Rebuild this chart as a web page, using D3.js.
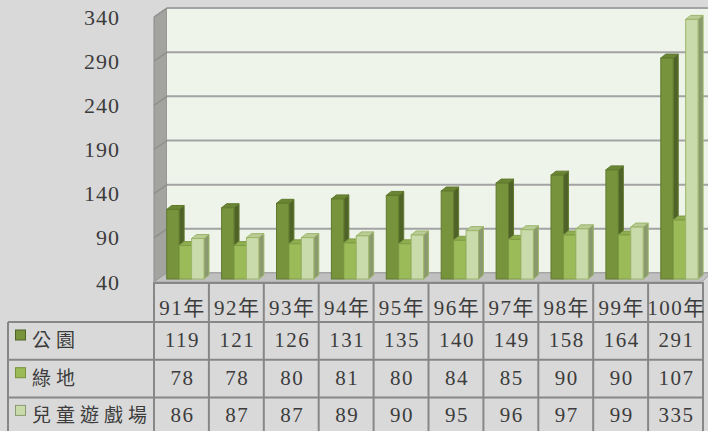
<!DOCTYPE html>
<html>
<head>
<meta charset="utf-8">
<script src="https://cdn.jsdelivr.net/npm/d3@7"></script>
<style>
  body { margin: 0; background: #d9d9d9; }
  text { font-family: "Liberation Serif", "Noto Sans CJK TC", serif; fill: #3c3c3c; }
</style>
</head>
<body>
<div id="chart"></div>
<script>
var categories = ["91年", "92年", "93年", "94年", "95年", "96年", "97年", "98年", "99年", "100年"];
var seriesNames = ["公園", "綠地", "兒童遊戲場"];
var parks = [119, 121, 126, 131, 135, 140, 149, 158, 164, 291];
var greens = [78, 78, 80, 81, 80, 84, 85, 90, 90, 107];
var playgrounds = [86, 87, 87, 89, 90, 95, 96, 97, 99, 335];
var yTicks = [40, 90, 140, 190, 240, 290, 340];

var width = 708, height = 431;

// colours per series: front, side, top, edge
var colors = [
    { front: "#77933c", side: "#4f6228", top: "#6a8534", edge: "#60792d" },
    { front: "#9bbb59", side: "#76923c", top: "#8fae4f", edge: "#7f9c45" },
    { front: "#c9dbaa", side: "#8a9a6e", top: "#b9cc95", edge: "#9cb56a" }
];
var seriesData = [parks, greens, playgrounds];

////////////////////////////////////////////////////////////////////////////////

var svg = d3.select("#chart").append("svg")
    .attr("width", width)
    .attr("height", height);

svg.append("rect")
    .attr("width", width).attr("height", height)
    .attr("fill", "#d9d9d9");

var x = d3.scaleBand().domain(categories).range([154, 703]);
var sub = d3.scaleBand().domain(seriesNames).range([12.7, 50]);
var yFront = d3.scaleLinear().domain([40, 340]).range([279, 15]);
var yBack = d3.scaleLinear().domain([40, 340]).range([273, 8]);

var wallDx = 13, wallDy = 9;
var wallLeft = 154 + wallDx;

// side wall
svg.append("polygon")
    .attr("points", [
        [154, yBack(340) + wallDy], [wallLeft, yBack(340)],
        [wallLeft, yBack(40)], [154, yBack(40) + wallDy]
    ].join(" "))
    .attr("fill", "#a3a49f")
    .attr("stroke", "#8c8c8c")
    .attr("stroke-width", 1);

// back wall
svg.append("rect")
    .attr("x", wallLeft).attr("y", yBack(340))
    .attr("width", width - wallLeft).attr("height", yBack(40) - yBack(340))
    .attr("fill", "#eef4ea");

// grid lines
var grid = svg.append("g").attr("stroke", "#a3a3a3").attr("stroke-width", 2);
yTicks.forEach(function(t) {
    grid.append("line")
        .attr("x1", wallLeft).attr("x2", width)
        .attr("y1", yBack(t)).attr("y2", yBack(t));
    grid.append("line")
        .attr("x1", 154).attr("y1", yBack(t) + wallDy)
        .attr("x2", wallLeft).attr("y2", yBack(t))
        .attr("stroke", "#8f908b").attr("stroke-width", 1.5);
});

// floor
svg.append("polygon")
    .attr("points", [[154, 282], [wallLeft, 273], [711, 273], [702, 282]].join(" "))
    .attr("fill", "#c0c0c0")
    .attr("stroke", "#a6a6a6")
    .attr("stroke-width", 1);

// y axis labels
svg.append("g").selectAll("text")
    .data(yTicks)
    .enter().append("text")
    .attr("x", 120)
    .attr("y", function(d) { return yBack(d) + 16.5; })
    .attr("text-anchor", "end")
    .attr("font-size", 22)
    .attr("letter-spacing", 1)
    .text(function(d) { return d; });

// bars
var dx = 5, dy = 4;
var bw = sub.bandwidth();
var bars = svg.append("g").attr("stroke-width", 1);
categories.forEach(function(cat, i) {
    seriesNames.forEach(function(name, j) {
        var v = seriesData[j][i];
        var c = colors[j];
        var x0 = x(cat) + sub(name);
        var yTop = yFront(v), yBot = yFront(40);
        bars.append("polygon")
            .attr("points", [[x0 + bw, yTop], [x0 + bw + dx, yTop - dy],
                             [x0 + bw + dx, yBot - dy], [x0 + bw, yBot]].join(" "))
            .attr("fill", c.side).attr("stroke", c.edge);
        bars.append("polygon")
            .attr("points", [[x0, yTop], [x0 + dx, yTop - dy],
                             [x0 + bw + dx, yTop - dy], [x0 + bw, yTop]].join(" "))
            .attr("fill", c.top).attr("stroke", c.edge);
        bars.append("rect")
            .attr("x", x0).attr("y", yTop)
            .attr("width", bw).attr("height", yBot - yTop)
            .attr("fill", c.front).attr("stroke", c.edge);
    });
});

// data table
var rowTops = [282, 322, 359.7, 397.4, 437];
var table = svg.append("g").attr("stroke", "#878787").attr("stroke-width", 2);
var colEdges = categories.map(function(c) { return x(c); }).concat([703]);

colEdges.forEach(function(cx) {
    table.append("line")
        .attr("x1", cx).attr("x2", cx)
        .attr("y1", rowTops[0]).attr("y2", height);
});
table.append("line")
    .attr("x1", 8).attr("x2", 8)
    .attr("y1", rowTops[1]).attr("y2", height);
table.append("line")
    .attr("x1", 154).attr("x2", 703)
    .attr("y1", rowTops[0] + 1).attr("y2", rowTops[0] + 1);
rowTops.slice(1, 4).forEach(function(ry) {
    table.append("line")
        .attr("x1", 8).attr("x2", 703)
        .attr("y1", ry).attr("y2", ry);
});

// category labels
svg.append("g").selectAll("text")
    .data(categories)
    .enter().append("text")
    .attr("x", function(d) { return x(d) + x.bandwidth() / 2 + 1; })
    .attr("y", 315)
    .attr("text-anchor", "middle")
    .attr("font-size", 21)
    .attr("letter-spacing", 1.5)
    .text(function(d) { return d; });

// values
var baselines = [347, 385, 422];
seriesData.forEach(function(vals, j) {
    svg.append("g").selectAll("text")
        .data(vals)
        .enter().append("text")
        .attr("x", function(d, i) { return x(categories[i]) + x.bandwidth() / 2 + 1; })
        .attr("y", baselines[j])
        .attr("text-anchor", "middle")
        .attr("font-size", 21)
        .attr("letter-spacing", 1.5)
        .text(function(d) { return d; });
});

// legend in table
seriesNames.forEach(function(name, j) {
    var top = rowTops[j + 1];
    svg.append("rect")
        .attr("x", 15.5).attr("y", top + 8)
        .attr("width", 10).attr("height", 10)
        .attr("fill", colors[j].front)
        .attr("stroke", colors[j].side)
        .attr("stroke-width", 1);
    svg.append("text")
        .attr("x", 32)
        .attr("y", top + 25)
        .attr("font-size", 19)
        .attr("letter-spacing", 5)
        .text(name);
});
</script>
</body>
</html>
